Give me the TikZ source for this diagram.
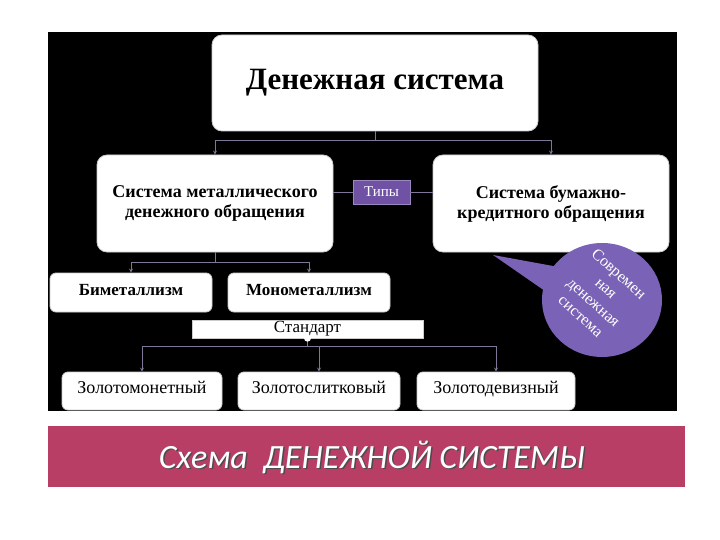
\documentclass[tikz,border=0pt]{standalone}
\usepackage{fontspec}
\setmainfont{Liberation Serif}
\newfontfamily\barfont{Carlito}
\usetikzlibrary{shapes.callouts}
\definecolor{violetbox}{RGB}{112,82,165}
\definecolor{bubblevio}{RGB}{122,98,182}
\definecolor{barpink}{RGB}{184,62,102}
\definecolor{linkgray}{RGB}{128,118,150}
\begin{document}
\begin{tikzpicture}[x=1pt,y=-1pt]

    \tikzstyle{box}=[rectangle, rounded corners=10pt, draw=gray!40, fill=white, line width=0.8pt, align=center, inner sep=2pt]
    \tikzstyle{smallbox}=[box, rounded corners=6pt, minimum width=162, minimum height=39, text height=1.5ex, text depth=.35ex]
    \tikzstyle{link}=[draw=linkgray, line width=0.8pt, ->, >=stealth]

    \fill[white] (0,0) rectangle (720,540);
    \useasboundingbox (0,0) rectangle (720,540);
    \fill[black] (48,32) rectangle (677,411);

    \node[box, minimum width=326, minimum height=96, font=\bfseries\fontsize{31}{33}\selectfont] (money) at (375,83) {Денежная система};
    \node[box, minimum width=236, minimum height=97, font=\bfseries\fontsize{18}{20}\selectfont] (metal) at (215,203.5) {Система металлического\\денежного обращения};
    \node[box, minimum width=236, minimum height=97, font=\bfseries\fontsize{18}{20}\selectfont] (paper) at (551,203.5) {Система бумажно-\\кредитного обращения};
    \node[rectangle, fill=violetbox, draw=violetbox!70, text=white, minimum width=57, minimum height=24, font=\fontsize{15}{16}\selectfont] (types) at (381.5,192) {Типы};

    \node[smallbox, font=\bfseries\fontsize{17}{18}\selectfont] (bimet) at (131,292.5) {Биметаллизм};
    \node[smallbox, font=\bfseries\fontsize{17}{18}\selectfont] (mono) at (309,292.5) {Монометаллизм};
    \node[rectangle, fill=white, draw=gray!40, minimum width=231, minimum height=18, inner sep=0pt, font=\fontsize{17}{17}\selectfont] (standard) at (307.5,329) {Стандарт};

    \node[smallbox, minimum width=160, minimum height=38, font=\fontsize{18}{19}\selectfont] (coinstd) at (142,391) {Золотомонетный};
    \node[smallbox, minimum width=162, minimum height=38, font=\fontsize{18}{19}\selectfont] (barstd) at (319,391) {Золотослитковый};
    \node[smallbox, minimum width=158, minimum height=38, font=\fontsize{18}{19}\selectfont] (exchstd) at (496,391) {Золотодевизный};

    \draw[link] (money.south) -- ++(0,9) -| (metal.north);
    \draw[link] (money.south) -- ++(0,9) -| (paper.north);
    \draw[draw=linkgray, line width=0.8pt] (metal.east |- types) -- (types.west)
                                            (types.east) -- (paper.west |- types);
    \draw[link] (metal.south) -- ++(0,10) -| (bimet.north);
    \draw[link] (metal.south) -- ++(0,10) -| (mono.north);
    \draw[link] (standard.south) -- ++(0,8) -| (coinstd.north);
    \draw[link] (standard.south) -- ++(0,8) -| (barstd.north);
    \draw[link] (standard.south) -- ++(0,8) -| (exchstd.north);
    \fill[white] (standard.south) circle (3.5);

    \node[ellipse callout, fill=bubblevio, minimum width=120, minimum height=114, callout pointer arc=26, callout absolute pointer={(493,255)}] (bubble) at (602,300) {};
    \node[rotate=-42, text=white, align=center, inner sep=0pt, font=\fontsize{16}{19}\selectfont] (bubbletext) at (600,295) {Современ\\ная\\денежная\\система};

    \fill[barpink] (48,426) rectangle (685,487);
    \node[text=black!70, font=\barfont\itshape\fontsize{34}{36}\selectfont] (captionshadow) at (373.5,458.5) {Схема\ \ ДЕНЕЖНОЙ СИСТЕМЫ};
    \node[text=white, font=\barfont\itshape\fontsize{34}{36}\selectfont] (caption) at (372,457) {Схема\ \ ДЕНЕЖНОЙ СИСТЕМЫ};
\end{tikzpicture}
\end{document}
